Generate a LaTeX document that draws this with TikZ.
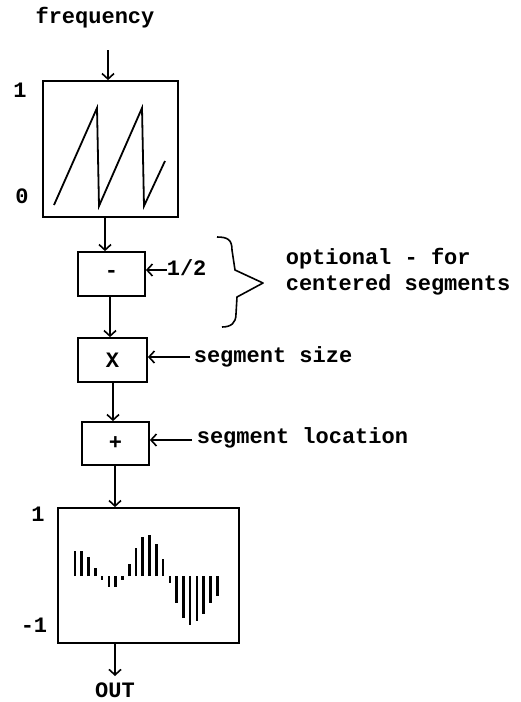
\documentclass[tikz,border=0pt]{standalone}
\usepackage{fontspec}
\setmainfont{Liberation Mono}
\usetikzlibrary{arrows.meta}
\begin{document}
\begin{tikzpicture}[x=1pt,y=-1pt,line width=1.6pt,
  lbl/.style={font=\fontsize{22}{24}\selectfont\bfseries,inner sep=0pt},
  blk/.style={draw,line width=1.8pt,inner sep=0pt,font=\fontsize{22}{24}\selectfont\bfseries},
  arr/.style={-{Straight Barb[length=5.5pt,width=12pt]},line width=1.6pt},
  bar/.style={line width=2.6pt}]
\useasboundingbox (0,0) rectangle (520,702);
% texts
\node[lbl,anchor=base] (freq) at (95,23) {frequency};
\node[lbl,anchor=base] (one) at (20,97) {1};
\node[lbl,anchor=base] (zero) at (22,203) {0};
% oscillator box
\node[blk,minimum width=135pt,minimum height=136pt] (osc) at (110.5,149) {};
\draw[line width=1.8pt,line join=miter] (54,205) -- (97,108) -- (99,206) -- (142,108) -- (144,206) -- (165,161);
% operator boxes
\node[blk,minimum width=67pt,minimum height=44pt] (minus) at (111.5,274) {-};
\node[blk,minimum width=69pt,minimum height=44pt] (times) at (112.5,360) {X};
\node[blk,minimum width=67pt,minimum height=43pt] (plus) at (115.5,443.5) {+};
% output box
\node[blk,minimum width=181pt,minimum height=135pt] (outbox) at (148.5,575.5) {};
\node[lbl,anchor=base] (oneb) at (38,521) {1};
\node[lbl,anchor=base] (mone) at (34,632) {-1};
\node[lbl,anchor=base] (out) at (115,697) {OUT};
% side labels
\node[lbl,anchor=base west] (half) at (166,275) {1/2};
\node[lbl,anchor=base west] (opt1) at (285,264) {optional - for};
\node[lbl,anchor=base west] (opt2) at (285,290) {centered segments};
\node[lbl,anchor=base west] (size) at (193,362) {segment size};
\node[lbl,anchor=base west] (loc) at (196,443) {segment location};
% connectors
\coordinate (fin) at (108,50);
\draw[arr] (fin) -- (fin |- osc.north);
\draw[arr] (osc.south -| 105,0) -- (minus.north -| 105,0);
\draw[arr] (minus.south -| 110,0) -- (times.north -| 110,0);
\draw[arr] (times.south -| 113,0) -- (plus.north -| 113,0);
\draw[arr] (plus.south -| 115,0) -- (outbox.north -| 115,0);
\coordinate (oend) at (115,676);
\draw[arr] (outbox.south -| oend) -- (oend);
\coordinate (hs) at (167,270);
\draw[arr] (hs) -- (hs -| minus.east);
\coordinate (ss) at (190,357);
\draw[arr] (ss) -- (ss -| times.east);
\coordinate (ls) at (192,440);
\draw[arr] (ls) -- (ls -| plus.east);
% brace
\draw[line join=round] (217,237) .. controls (228,237) and (232,240) .. (232,250) -- (235,270) -- (263,283) -- (237,297) -- (236,314) .. controls (236,323) and (231,327) .. (222,327);
% bars
\foreach \h [count=\i from 0] in {25,25,19,8,-4,-11,-11,-4,12,28,39,41,32,17,-7,-27,-42,-49,-45,-38,-27,-20}
  \draw[bar] ({75+6.775*\i},576) -- ++(0,{-1*(\h)});
\end{tikzpicture}
\end{document}
